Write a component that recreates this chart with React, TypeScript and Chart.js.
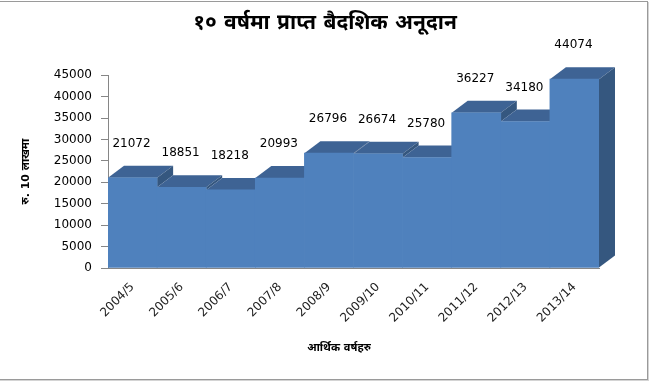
import React, { useEffect, useRef } from 'react';
import { Chart, registerables } from 'chart.js';

Chart.register(...registerables);

const categories = ['2004/5', '2005/6', '2006/7', '2007/8', '2008/9', '2009/10', '2010/11', '2011/12', '2012/13', '2013/14'];
const grants = [21072, 18851, 18218, 20993, 26796, 26674, 25780, 36227, 34180, 44074];
const yMax = 45000;
const yStep = 5000;
const titleText = '१० वर्षमा प्राप्त बैदशिक अनूदान';
const yTitle = 'रु. 10 लाखमा';
const xTitle = 'आर्थिक वर्षहरु';

const FRONT = '#4F81BD';
const TOP = '#3E6394';
const SIDE = '#35577F';
const DX = 16;
const DY = -12;
const FONT = "'DejaVu Sans', 'Noto Sans', sans-serif";

const depthPlugin = {
  id: 'depth3d',
  beforeDatasetsDraw(chart: any) {
    const { ctx } = chart;
    const els = chart.getDatasetMeta(0).data;
    ctx.save();
    for (let i = 0; i < els.length; i++) {
      const el = els[i];
      const half = el.width / 2;
      const x0 = el.x - half;
      const x1 = el.x + half;
      const top = el.y;
      const base = el.base;
      ctx.fillStyle = TOP;
      ctx.beginPath();
      ctx.moveTo(x0, top);
      ctx.lineTo(x1, top);
      ctx.lineTo(x1 + DX, top + DY);
      ctx.lineTo(x0 + DX, top + DY);
      ctx.closePath();
      ctx.fill();
      const next = els[i + 1];
      const lower = next ? next.y : base;
      if (lower > top) {
        ctx.fillStyle = SIDE;
        ctx.beginPath();
        ctx.moveTo(x1, top);
        ctx.lineTo(x1 + DX, top + DY);
        ctx.lineTo(x1 + DX, lower + DY);
        ctx.lineTo(x1, lower);
        ctx.closePath();
        ctx.fill();
      }
    }
    ctx.restore();
  },
  afterDatasetsDraw(chart: any) {
    const { ctx } = chart;
    const els = chart.getDatasetMeta(0).data;
    const vals = chart.data.datasets[0].data;
    ctx.save();
    ctx.fillStyle = '#000';
    ctx.font = `12px ${FONT}`;
    ctx.textAlign = 'center';
    ctx.textBaseline = 'middle';
    for (let i = 0; i < els.length; i++) {
      ctx.fillText(String(vals[i]), els[i].x - 1, els[i].y - 34);
    }
    // x axis title
    ctx.font = `bold 11px ${FONT}`;
    ctx.fillText(xTitle, 339, 348);
    ctx.restore();
  },
};

export default function App() {
  const ref = useRef<HTMLCanvasElement>(null);
  useEffect(() => {
    document.body.style.margin = '0';
    const chart = new Chart(ref.current!, {
      type: 'bar',
      data: {
        labels: categories,
        datasets: [
          {
            data: grants,
            backgroundColor: FRONT,
            borderWidth: 0,
            barPercentage: 1,
            categoryPercentage: 1,
          },
        ],
      },
      options: {
        responsive: false,
        animation: false,
        layout: { padding: { left: 0, right: 0, top: 0, bottom: 0 } },
        plugins: {
          legend: { display: false },
          tooltip: { enabled: false },
          title: {
            display: true,
            text: titleText,
            color: '#000',
            font: { family: FONT, size: 21, weight: 'bold' },
            padding: { top: 11, bottom: 39 },
          },
        },
        scales: {
          x: {
            grid: { display: false, drawTicks: false },
            border: { display: true, color: '#868686' },
            ticks: {
              color: '#222',
              font: { family: FONT, size: 12 },
              minRotation: 45,
              maxRotation: 45,
              padding: 12,
            },
            afterFit: (s: any) => {
              s.height = 114;
            },
          },
          y: {
            min: 0,
            max: yMax,
            grid: { drawOnChartArea: false, tickLength: 7, color: '#868686' },
            border: { display: true, color: '#868686' },
            ticks: {
              stepSize: yStep,
              color: '#000',
              font: { family: FONT, size: 12 },
              padding: 9,
              callback: (v: any) => String(v),
            },
            title: {
              display: true,
              text: yTitle,
              color: '#000',
              font: { family: FONT, size: 11, weight: 'bold' },
              padding: { top: 20, bottom: 0 },
            },
            afterFit: (s: any) => {
              s.width = 108;
            },
          },
          yRight: {
            position: 'right',
            display: true,
            grid: { display: false, drawTicks: false },
            border: { display: false },
            ticks: { display: false },
            afterFit: (s: any) => {
              s.width = 51;
            },
          },
        },
      },
      plugins: [depthPlugin],
    });
    return () => chart.destroy();
  }, []);
  return (
    <div style={{ position: 'relative', width: 650, height: 382, overflow: 'hidden', background: '#fff' }}>
      <canvas ref={ref} width={650} height={382} style={{ display: 'block' }} />
      <div
        style={{
          position: 'absolute',
          left: -2,
          top: 1,
          width: 648,
          height: 377,
          border: '1px solid #9a9a9a',
          boxShadow: '1px 1px 0 #d4d4d4',
          pointerEvents: 'none',
        }}
      />
    </div>
  );
}
